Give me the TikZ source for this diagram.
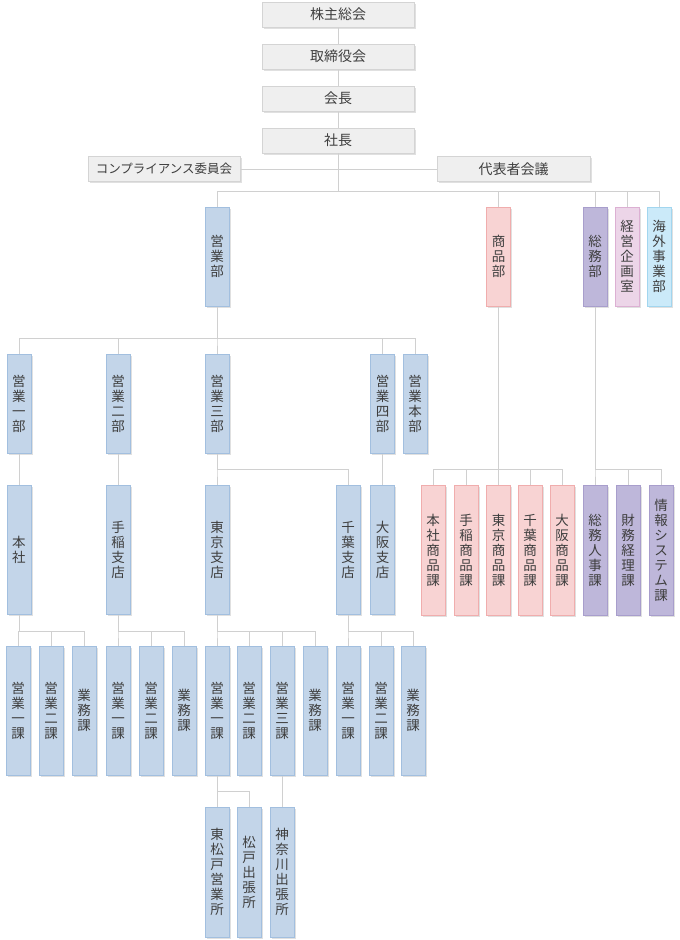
\documentclass[tikz,border=0pt]{standalone}
\usepackage{fontspec}
\setmainfont{Noto Sans CJK JP}
\usetikzlibrary{shadows}

\definecolor{boxgray}{HTML}{EFEFEF}
\definecolor{edgegray}{HTML}{D4D4D4}
\definecolor{linkgray}{HTML}{D0D0D0}
\definecolor{salesfill}{HTML}{C3D5E9}
\definecolor{salesedge}{HTML}{A2BFDF}
\definecolor{goodsfill}{HTML}{F8D3D3}
\definecolor{goodsedge}{HTML}{F0ADAD}
\definecolor{adminfill}{HTML}{BEB7DA}
\definecolor{adminedge}{HTML}{A89ECC}
\definecolor{planfill}{HTML}{ECD5E8}
\definecolor{planedge}{HTML}{DCB0D3}
\definecolor{overfill}{HTML}{CBEAF9}
\definecolor{overedge}{HTML}{A2D6EF}
\definecolor{ink}{HTML}{3E3E3E}

\tikzset{
  unit/.style={rectangle, line width=1pt, text=ink, inner sep=0pt, align=center,
    font=\fontsize{13.5}{15}\selectfont,
    drop shadow={shadow xshift=1.5pt, shadow yshift=-1.5pt, opacity=0.12, fill=black}},
  headbox/.style={unit, fill=boxgray, draw=edgegray, minimum width=152pt, minimum height=25pt,
    font=\fontsize{14}{16}\selectfont},
  tate/.style={unit, minimum width=24pt, minimum height=#1},
  sales/.style={tate=#1, fill=salesfill, draw=salesedge},
  goods/.style={tate=#1, fill=goodsfill, draw=goodsedge},
  admin/.style={tate=#1, fill=adminfill, draw=adminedge},
  plan/.style={tate=#1, fill=planfill, draw=planedge},
  over/.style={tate=#1, fill=overfill, draw=overedge},
  link/.style={draw=linkgray, line width=1pt}
}

\begin{document}
\begin{tikzpicture}[x=1pt, y=-1pt]
    \useasboundingbox (0,0) rectangle (680,940);

    % 1. Bus levels
    \coordinate (busTop) at (0,191);
    \coordinate (busBu) at (0,338);
    \coordinate (busShiten) at (0,469);
    \coordinate (busKa) at (0,631);
    \coordinate (busSho) at (0,791);

    % 2. Board and president
    \node[headbox] (kabunushi) at (338,14.5) {株主総会};
    \node[headbox] (torishimari) at (338,56.5) {取締役会};
    \node[headbox] (kaicho) at (338,98.5) {会長};
    \node[headbox] (shacho) at (338,140.5) {社長};
    \node[headbox, font=\fontsize{12.5}{15}\selectfont] (compliance) at (164,169) {コンプライアンス委員会};
    \node[headbox, minimum width=153pt] (daihyo) at (513.5,169) {代表者会議};

    \draw[link] (kabunushi) -- (torishimari) -- (kaicho) -- (shacho);
    \draw[link] (compliance) -- (daihyo);

    % 3. Departments under the president
    \node[sales=99pt] (eigyo) at (217,256.5) {営\\業\\部};
    \node[goods=99pt] (shohin) at (498.5,256.5) {商\\品\\部};
    \node[admin=99pt] (somu) at (595,256.5) {総\\務\\部};
    \node[plan=99pt] (keiei) at (627,256.5) {経\\営\\企\\画\\室};
    \node[over=99pt] (kaigai) at (659,256.5) {海\\外\\事\\業\\部};

    \foreach \dept in {eigyo, shohin, somu, keiei, kaigai} {
        \draw[link] (shacho.south) |- (\dept |- busTop) -- (\dept.north);
    }

    % 4. Sales divisions
    \foreach \x/\name/\txt in {19/buIchi/{営\\業\\一\\部}, 118/buNi/{営\\業\\二\\部},
        217/buSan/{営\\業\\三\\部}, 382.5/buYon/{営\\業\\四\\部}, 415/buHon/{営\\業\\本\\部}} {
        \node[sales=99pt] (\name) at (\x,403.5) {\txt};
        \draw[link] (eigyo.south) |- (\name |- busBu) -- (\name.north);
    }

    % 5. Head office and branches
    \node[sales=129pt] (honsha) at (19,549.5) {本\\社};
    \node[sales=129pt] (teine) at (118,549.5) {手\\稲\\支\\店};
    \node[sales=129pt] (tokyo) at (217,549.5) {東\\京\\支\\店};
    \node[sales=129pt] (chiba) at (348,549.5) {千\\葉\\支\\店};
    \node[sales=129pt] (osaka) at (382.5,549.5) {大\\阪\\支\\店};

    \draw[link] (buIchi) -- (honsha);
    \draw[link] (buNi) -- (teine);
    \draw[link] (buSan.south) |- (tokyo |- busShiten) -- (tokyo.north);
    \draw[link] (buSan.south) |- (chiba |- busShiten) -- (chiba.north);
    \draw[link] (buYon) -- (osaka);

    % 6. Goods and general affairs sections
    \foreach \x/\name/\txt in {433/honshaShohin/{本\\社\\商\\品\\課}, 466/teineShohin/{手\\稲\\商\\品\\課},
        498.5/tokyoShohin/{東\\京\\商\\品\\課}, 530/chibaShohin/{千\\葉\\商\\品\\課},
        562/osakaShohin/{大\\阪\\商\\品\\課}} {
        \node[goods=130pt] (\name) at (\x,550) {\txt};
        \draw[link] (shohin.south) |- (\name |- busShiten) -- (\name.north);
    }
    \foreach \x/\name/\txt in {595/jinji/{総\\務\\人\\事\\課}, 628/zaimu/{財\\務\\経\\理\\課},
        661/joho/{情\\報\\シ\\ス\\テ\\ム\\課}} {
        \node[admin=130pt] (\name) at (\x,550) {\txt};
        \draw[link] (somu.south) |- (\name |- busShiten) -- (\name.north);
    }

    % 7. Sections under each office
    \foreach \x/\name/\txt in {18/hKa1/{営\\業\\一\\課}, 51/hKa2/{営\\業\\二\\課}, 84/hGyomu/{業\\務\\課}} {
        \node[sales=129pt] (\name) at (\x,710.5) {\txt};
        \draw[link] (honsha.south) |- (\name |- busKa) -- (\name.north);
    }
    \foreach \x/\name/\txt in {118/tKa1/{営\\業\\一\\課}, 151/tKa2/{営\\業\\二\\課}, 184/tGyomu/{業\\務\\課}} {
        \node[sales=129pt] (\name) at (\x,710.5) {\txt};
        \draw[link] (teine.south) |- (\name |- busKa) -- (\name.north);
    }
    \foreach \x/\name/\txt in {217/kKa1/{営\\業\\一\\課}, 249/kKa2/{営\\業\\二\\課},
        282/kKa3/{営\\業\\三\\課}, 315/kGyomu/{業\\務\\課}} {
        \node[sales=129pt] (\name) at (\x,710.5) {\txt};
        \draw[link] (tokyo.south) |- (\name |- busKa) -- (\name.north);
    }
    \foreach \x/\name/\txt in {348/cKa1/{営\\業\\一\\課}, 381/cKa2/{営\\業\\二\\課}, 413/cGyomu/{業\\務\\課}} {
        \node[sales=129pt] (\name) at (\x,710.5) {\txt};
        \draw[link] (chiba.south) |- (\name |- busKa) -- (\name.north);
    }

    % 8. Sales offices
    \node[sales=130pt] (higashiMatsudo) at (217,872) {東\\松\\戸\\営\\業\\所};
    \node[sales=130pt] (matsudo) at (249,872) {松\\戸\\出\\張\\所};
    \node[sales=130pt] (kanagawa) at (282,872) {神\\奈\\川\\出\\張\\所};

    \draw[link] (kKa1) -- (higashiMatsudo);
    \draw[link] (kKa1.south) |- (matsudo |- busSho) -- (matsudo.north);
    \draw[link] (kKa3) -- (kanagawa);

\end{tikzpicture}
\end{document}
